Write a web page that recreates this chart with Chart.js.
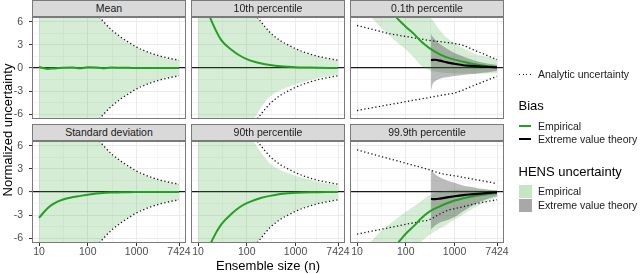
<!DOCTYPE html>
<html>
<head>
<meta charset="utf-8">
<script src="https://cdn.jsdelivr.net/npm/chart.js@4/dist/chart.umd.min.js"></script>
<style>
  html, body { margin: 0; padding: 0; background: #fff; }
  body { position: relative; width: 640px; height: 274px; overflow: hidden;
         font-family: "Liberation Sans", Arial, Helvetica, sans-serif; }
  canvas { position: absolute; left: 0; top: 0; }
  .strip { position: absolute; box-sizing: border-box; background: #D9D9D9; border: 1px solid #7A7A7A;
           font-size: 10.5px; line-height: 15px; color: #1A1A1A; text-align: center; white-space: nowrap; }
  .t { position: absolute; white-space: nowrap; color: #000; transform: translateY(-50%); }
  .small { font-size: 10.5px; line-height: 13px; color: #1A1A1A; }
  .big { font-size: 13px; line-height: 16px; }
  .key { position: absolute; }
</style>
</head>
<body>
<canvas id="p0" width="640" height="274"></canvas>
<canvas id="p1" width="640" height="274"></canvas>
<canvas id="p2" width="640" height="274"></canvas>
<canvas id="p3" width="640" height="274"></canvas>
<canvas id="p4" width="640" height="274"></canvas>
<canvas id="p5" width="640" height="274"></canvas>
<div id="overlay"></div>
<script>
// ---------------- data ----------------
const panelTitles = ['Mean', '10th percentile', '0.1th percentile',
                     'Standard deviation', '90th percentile', '99.9th percentile'];
const xBreaks = [10, 100, 1000, 7424];
const xBreakLabels = ['10', '100', '1000', '7424'];
const yBreaks = [-6, -3, 0, 3, 6];
const yBreakLabels = ['-6', '-3', '0', '3', '6'];

const ensembleSize = [10, 15, 20, 30, 50, 70, 100, 150, 200, 300, 500, 700, 1000, 1500, 2000, 3000, 5000, 7424];
const evtSize = [330, 360, 400, 500, 700, 1000, 1500, 2000, 3000, 5000, 7424];

// Mean / standard deviation
const momentAnalyticHi = [27.5, 22.4, 19.4, 15.9, 12.3, 10.4, 8.7, 7.1, 6.15, 5.0, 3.9, 3.3, 2.7, 2.2, 1.9, 1.55, 1.22, 1.0];
const momentAnalyticLo = [-27.5, -22.4, -19.4, -15.9, -12.3, -10.4, -8.7, -7.1, -6.15, -5.0, -3.9, -3.3, -2.7, -2.2, -1.9, -1.55, -1.22, -1.0];
const momentHensHi = [27.3, 22.2, 19.2, 15.8, 12.2, 10.3, 8.6, 7.05, 6.1, 4.95, 3.85, 3.25, 2.65, 2.15, 1.85, 1.5, 1.18, 0.97];
const momentHensLo = [-27.3, -22.2, -19.2, -15.8, -12.2, -10.3, -8.6, -7.05, -6.1, -4.95, -3.85, -3.25, -2.65, -2.15, -1.85, -1.5, -1.18, -0.97];
const meanBias = [0.12, -0.12, -0.05, 0.04, 0.06, -0.04, 0.1, 0.06, -0.02, 0.05, 0.03, 0.02, 0.01, 0.01, 0, 0, 0, 0];
const sdBias = [-3.34, -2.1, -1.5, -1.0, -0.65, -0.5, -0.35, -0.2, -0.12, -0.07, -0.04, -0.02, -0.01, 0, 0, 0, 0, 0];

// 10th / 90th percentile
const quantAnalyticHi = [27, 22, 19, 15.5, 12, 10, 8.5, 6.9, 5.9, 4.6, 3.5, 3.0, 2.5, 2.05, 1.8, 1.48, 1.2, 1.0];
const quantAnalyticLo = [-27, -22, -19, -15.5, -12, -10, -8.5, -6.9, -5.9, -4.6, -3.5, -3.0, -2.5, -2.05, -1.8, -1.48, -1.2, -1.0];
const p10Bias = [11.5, 7.7, 5.75, 3.6, 2.3, 1.65, 1.15, 0.77, 0.58, 0.4, 0.24, 0.17, 0.11, 0.07, 0.05, 0.03, 0.01, 0];
const p10HensHi = [26.8, 21.8, 18.8, 15.3, 11.9, 9.9, 8.4, 6.85, 5.85, 4.55, 3.45, 2.95, 2.45, 2.0, 1.75, 1.45, 1.15, 0.95];
const p10HensLo = [-20, -16, -14, -11.5, -9.5, -8.5, -7.7, -6.3, -5.0, -3.7, -2.8, -2.45, -2.1, -1.8, -1.55, -1.3, -1.05, -0.9];
const p90Bias = [-12, -8, -6.1, -4.2, -2.75, -2.0, -1.45, -1.0, -0.75, -0.5, -0.25, -0.17, -0.1, -0.06, -0.04, -0.02, -0.01, 0];
const p90HensHi = [20, 16, 14, 11.5, 9.5, 8.5, 7.6, 6.2, 5.0, 3.7, 2.8, 2.45, 2.1, 1.8, 1.55, 1.3, 1.05, 0.9];
const p90HensLo = [-26.8, -21.8, -18.8, -15.3, -11.9, -9.9, -8.4, -6.85, -5.85, -4.55, -3.45, -2.95, -2.45, -2.0, -1.75, -1.45, -1.15, -0.95];

// 0.1th percentile
const p001Bias = [14, 12.2, 10.8, 9.4, 7.4, 6.3, 5.35, 4.35, 3.52, 2.6, 1.75, 1.38, 1.08, 0.8, 0.62, 0.42, 0.24, 0.13];
const p001HensHi = [20, 18, 16.5, 14.5, 12, 10.5, 9.2, 8, 7.2, 6.7, 4.9, 3.9, 3.2, 2.55, 2.15, 1.7, 1.4, 1.2];
const p001HensLo = [8.4, 7.3, 6.5, 5.3, 4.0, 3.2, 2.4, 1.3, 0.4, -0.25, -0.55, -0.65, -0.7, -0.72, -0.72, -0.72, -0.7, -0.68];
const p001AnalyticHi = [5.5, 5.22, 5.02, 4.74, 4.39, 4.24, 4.08, 3.9, 3.77, 3.58, 3.41, 3.3, 3.18, 2.93, 2.6, 2.13, 1.54, 1.08];
const p001AnalyticLo = [-5.5, -5.3, -5.16, -4.96, -4.7, -4.54, -4.36, -4.16, -4.02, -3.82, -3.57, -3.4, -3.23, -2.85, -2.5, -2.06, -1.5, -1.07];
const p001EvtBias = [1.0, 1.05, 1.07, 0.95, 0.72, 0.55, 0.36, 0.29, 0.2, 0.13, 0.08];
const p001EvtHi = [4.4, 4.0, 3.7, 3.1, 2.5, 1.95, 1.5, 1.2, 0.85, 0.55, 0.4];
const p001EvtLo = [-2.87, -2.0, -1.7, -1.4, -1.2, -1.05, -0.9, -0.8, -0.7, -0.55, -0.4];

// 99.9th percentile
const p999Bias = [-14, -12.2, -11, -9.5, -7.7, -6.55, -5.4, -4.35, -3.5, -2.57, -1.85, -1.45, -1.1, -0.82, -0.66, -0.47, -0.27, -0.13];
const p999HensHi = [-8.2, -7.1, -6.3, -5.15, -4.0, -3.3, -2.6, -1.8, -1.25, -0.45, 0.0, 0.15, 0.25, 0.3, 0.3, 0.3, 0.3, 0.3];
const p999HensLo = [-20, -18, -16.5, -14.5, -12, -10.5, -9, -7.3, -6.5, -5.6, -4.7, -4.2, -3.6, -2.9, -2.4, -1.8, -1.1, -0.65];
const p999AnalyticHi = [5.45, 5.15, 4.93, 4.62, 4.24, 3.99, 3.72, 3.42, 3.2, 2.89, 2.43, 2.25, 2.1, 1.9, 1.75, 1.55, 1.3, 1.07];
const p999AnalyticLo = [-5.45, -5.23, -5.07, -4.85, -4.57, -4.39, -4.19, -3.97, -3.81, -3.59, -2.85, -2.4, -2.15, -1.9, -1.7, -1.45, -1.2, -1.0];
const p999EvtBias = [-0.9, -0.92, -0.92, -0.85, -0.7, -0.55, -0.4, -0.32, -0.24, -0.12, -0.04];
const p999EvtHi = [2.87, 2.6, 2.3, 1.9, 1.5, 1.2, 0.85, 0.7, 0.5, 0.3, 0.2];
const p999EvtLo = [-4.85, -4.6, -4.35, -3.95, -3.65, -3.25, -2.5, -2.0, -1.4, -0.85, -0.56];

// ---------------- styling / layout ----------------
const GREEN = '#23A023';
const GREEN_FILL = 'rgba(44,160,44,0.2)';
const GREY_FILL = 'rgba(60,60,60,0.35)';
const GRID = '#EBEBEB';
const FONT = '"Liberation Sans", Arial, Helvetica, sans-serif';
const COLS = [32, 191, 350];
const ROWS = [17, 141];
const PW = 154, PH = 102;
const Y_MIN = -6.6, Y_MAX = 6.6;
const X_MIN = Math.pow(10, 1 - 0.05 * Math.log10(7424 / 10));
const X_MAX = Math.pow(10, Math.log10(7424) + 0.05 * Math.log10(7424 / 10));
const Y_AXIS_W = 32, X_AXIS_H = 17;

// gridline positions: major breaks plus midpoints (in log space) between them
const xGrid = [];
xBreaks.forEach((b, k) => { xGrid.push(b); if (k < xBreaks.length - 1) xGrid.push(Math.sqrt(b * xBreaks[k + 1])); });
const yGrid = [];
yBreaks.forEach((b, k) => { yGrid.push(b); if (k < yBreaks.length - 1) yGrid.push((b + yBreaks[k + 1]) / 2); });

const panelData = [
  { bias: meanBias, hensHi: momentHensHi, hensLo: momentHensLo, anaHi: momentAnalyticHi, anaLo: momentAnalyticLo },
  { bias: p10Bias, hensHi: p10HensHi, hensLo: p10HensLo, anaHi: quantAnalyticHi, anaLo: quantAnalyticLo },
  { bias: p001Bias, hensHi: p001HensHi, hensLo: p001HensLo, anaHi: p001AnalyticHi, anaLo: p001AnalyticLo,
    evtBias: p001EvtBias, evtHi: p001EvtHi, evtLo: p001EvtLo },
  { bias: sdBias, hensHi: momentHensHi, hensLo: momentHensLo, anaHi: momentAnalyticHi, anaLo: momentAnalyticLo },
  { bias: p90Bias, hensHi: p90HensHi, hensLo: p90HensLo, anaHi: quantAnalyticHi, anaLo: quantAnalyticLo },
  { bias: p999Bias, hensHi: p999HensHi, hensLo: p999HensLo, anaHi: p999AnalyticHi, anaLo: p999AnalyticLo,
    evtBias: p999EvtBias, evtHi: p999EvtHi, evtLo: p999EvtLo }
];

const pts = (xs, ys) => xs.map((x, k) => ({ x: x, y: ys[k] }));

const framePlugin = {
  id: 'frame',
  afterDatasetsDraw(chart) {
    const a = chart.chartArea, ctx = chart.ctx;
    ctx.save();
    ctx.strokeStyle = '#7A7A7A';
    ctx.lineWidth = 1;
    ctx.strokeRect(a.left + 0.5, a.top + 0.5, a.width - 1, a.height - 1);
    ctx.restore();
  }
};

Chart.defaults.font.family = FONT;

panelData.forEach((p, i) => {
  const col = i % 3, row = Math.floor(i / 3);
  const left = COLS[col], top = ROWS[row];
  const showY = col === 0, showX = row === 1;
  const ds = [];
  const line = { pointRadius: 0, pointHoverRadius: 0, cubicInterpolationMode: 'monotone', clip: 0 };
  // HENS empirical ribbon
  ds.push(Object.assign({ data: pts(ensembleSize, p.hensHi), borderWidth: 0, borderColor: 'rgba(0,0,0,0)',
    backgroundColor: GREEN_FILL, fill: ds.length + 1, order: 5 }, line));
  ds.push(Object.assign({ data: pts(ensembleSize, p.hensLo), borderWidth: 0, borderColor: 'rgba(0,0,0,0)',
    fill: false, order: 5 }, line));
  if (p.evtHi) {
    ds.push(Object.assign({ data: pts(evtSize, p.evtHi), borderWidth: 0, borderColor: 'rgba(0,0,0,0)',
      backgroundColor: GREY_FILL, fill: ds.length + 1, order: 4 }, line));
    ds.push(Object.assign({ data: pts(evtSize, p.evtLo), borderWidth: 0, borderColor: 'rgba(0,0,0,0)',
      fill: false, order: 4 }, line));
  }
  // analytic uncertainty (dotted)
  [p.anaHi, p.anaLo].forEach(arr => ds.push(Object.assign({ data: pts(ensembleSize, arr), borderColor: '#1A1A1A',
    borderWidth: 1.3, borderDash: [1.3, 2.4], fill: false, order: 3 }, line)));
  // bias lines
  ds.push(Object.assign({ data: pts(ensembleSize, p.bias), borderColor: GREEN, borderWidth: 2, fill: false, order: 2 }, line));
  if (p.evtBias) {
    ds.push(Object.assign({ data: pts(evtSize, p.evtBias), borderColor: '#000', borderWidth: 2.2, fill: false, order: 1 }, line));
  }

  new Chart(document.getElementById('p' + i), {
    type: 'line',
    data: { datasets: ds },
    options: {
      responsive: false, animation: false, devicePixelRatio: 1, events: [],
      layout: { padding: { left: left - (showY ? Y_AXIS_W : 0), top: top,
                           right: 640 - (left + PW), bottom: 274 - (top + PH) - (showX ? X_AXIS_H : 0) } },
      plugins: { legend: { display: false }, tooltip: { enabled: false }, title: { display: false } },
      scales: {
        x: {
          type: 'logarithmic', min: X_MIN, max: X_MAX, bounds: 'data',
          afterBuildTicks: s => { s.ticks = xGrid.map(v => ({ value: v })); },
          afterFit: s => { s.height = showX ? X_AXIS_H : 0; s.paddingLeft = 0; s.paddingRight = 0; s.paddingTop = 0; s.paddingBottom = 0; },
          border: { display: false },
          grid: {
            color: GRID,
            lineWidth: c => (c.tick && xBreaks.includes(c.tick.value)) ? 1 : 0.5,
            drawTicks: showX, tickLength: 3, tickWidth: 1,
            tickColor: c => (c.tick && xBreaks.includes(c.tick.value)) ? '#333333' : 'rgba(0,0,0,0)'
          },
          ticks: {
            display: showX, autoSkip: false, maxRotation: 0, minRotation: 0, padding: 0,
            color: '#4D4D4D', font: { size: 10.5, family: FONT },
            callback: v => { const k = xBreaks.indexOf(v); return k >= 0 ? xBreakLabels[k] : ''; }
          }
        },
        y: {
          type: 'linear', min: Y_MIN, max: Y_MAX, bounds: 'data',
          afterBuildTicks: s => { s.ticks = yGrid.map(v => ({ value: v })); },
          afterFit: s => { s.width = showY ? Y_AXIS_W : 0; s.paddingLeft = 0; s.paddingRight = 0; s.paddingTop = 0; s.paddingBottom = 0; },
          border: { display: false },
          grid: {
            color: c => (c.tick && c.tick.value === 0) ? '#1A1A1A' : GRID,
            lineWidth: c => (c.tick && c.tick.value === 0) ? 1.2 : ((c.tick && yBreaks.includes(c.tick.value)) ? 1 : 0.5),
            drawTicks: showY, tickLength: 3, tickWidth: 1,
            tickColor: c => (c.tick && yBreaks.includes(c.tick.value)) ? '#333333' : 'rgba(0,0,0,0)'
          },
          ticks: {
            display: showY, autoSkip: false, padding: 6,
            color: '#4D4D4D', font: { size: 10.5, family: FONT },
            callback: v => { const k = yBreaks.indexOf(v); return k >= 0 ? yBreakLabels[k] : ''; }
          }
        }
      }
    },
    plugins: [framePlugin]
  });
});

// ---------------- strips, titles, legend (text) ----------------
const ov = document.getElementById('overlay');
function add(html) { ov.insertAdjacentHTML('beforeend', html); }
panelTitles.forEach((t, i) => {
  const col = i % 3, row = Math.floor(i / 3);
  add(`<div class="strip" style="left:${COLS[col]}px;top:${ROWS[row] - 17}px;width:${PW}px;height:17px">${t}</div>`);
});
add(`<div class="t big" style="left:168px;top:265.5px;width:200px;text-align:center">Ensemble size (n)</div>`);
add(`<div class="big" style="position:absolute;left:${7.5 - 120}px;top:${130 - 8}px;width:240px;text-align:center;white-space:nowrap;transform:rotate(-90deg)">Normalized uncertainty</div>`);

// legend
add(`<div class="key" style="left:519px;top:73.7px;width:12px;height:1.3px;background:repeating-linear-gradient(90deg,#1A1A1A 0 1.3px,rgba(0,0,0,0) 1.3px 3.6px)"></div>`);
add(`<div class="t small" style="left:538px;top:74.3px">Analytic uncertainty</div>`);
add(`<div class="t big" style="left:518.5px;top:106px">Bias</div>`);
add(`<div class="key" style="left:519px;top:125px;width:12px;height:2px;background:${GREEN}"></div>`);
add(`<div class="t small" style="left:538px;top:126px">Empirical</div>`);
add(`<div class="key" style="left:519px;top:138.3px;width:12px;height:2.2px;background:#000"></div>`);
add(`<div class="t small" style="left:538px;top:139.3px">Extreme value theory</div>`);
add(`<div class="t big" style="left:518.5px;top:171.7px">HENS uncertainty</div>`);
add(`<div class="key" style="left:518.5px;top:184.5px;width:13px;height:13px;background:#C6E5C3"></div>`);
add(`<div class="t small" style="left:538px;top:191px">Empirical</div>`);
add(`<div class="key" style="left:518.5px;top:198.5px;width:13px;height:13px;background:#A8A8A8"></div>`);
add(`<div class="t small" style="left:538px;top:205px">Extreme value theory</div>`);
</script>
</body>
</html>
